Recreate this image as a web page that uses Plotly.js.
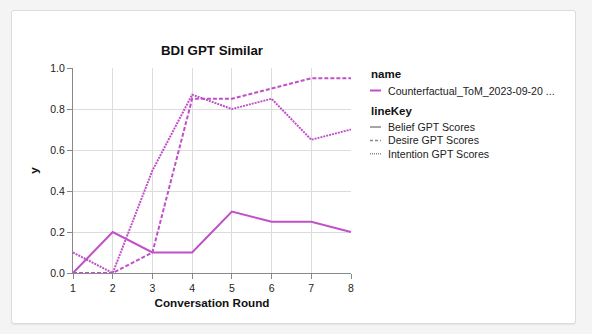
<!DOCTYPE html>
<html>
<head>
<meta charset="utf-8">
<script src="https://cdn.plot.ly/plotly-3.0.1.min.js"></script>
<style>
  html, body { margin: 0; padding: 0; background: #f4f4f4; width: 592px; height: 334px; overflow: hidden; }
  #card { position: absolute; left: 11px; top: 10px; width: 563px; height: 312px; background: #ffffff;
          border: 1px solid #dcdcdc; border-radius: 3px; box-shadow: 0 1px 1px rgba(0,0,0,0.06); }
  #chart { position: absolute; left: 0; top: 0; width: 592px; height: 334px; }
</style>
</head>
<body>
<div id="card"></div>
<div id="chart"></div>
<script>
// ---- data ----
var rounds = [1, 2, 3, 4, 5, 6, 7, 8];
var beliefScores    = [0.0, 0.2, 0.1, 0.1, 0.3, 0.25, 0.25, 0.2];
var desireScores    = [0.0, 0.0, 0.1, 0.85, 0.85, 0.9, 0.95, 0.95];
var intentionScores = [0.1, 0.0, 0.5, 0.87, 0.8, 0.85, 0.65, 0.7];
var seriesNames = ["Belief GPT Scores", "Desire GPT Scores", "Intention GPT Scores"];
var runName = "Counterfactual_ToM_2023-09-20 ...";
var yTicks = [0, 0.2, 0.4, 0.6, 0.8, 1.0];

var color = "#c050c8";
var dashes = ["solid", "dash", "dot"];
var values = [beliefScores, desireScores, intentionScores];

function dashStyle(d, big) {
  if (d === "dash") return big ? "4px,2px" : "3px,2px";
  if (d === "dot") return big ? "2px,1px" : "1px,1px";
  return "solid";
}

var traces = values.map(function (v, i) {
  return {
    x: rounds, y: v, type: "scatter", mode: "lines", name: seriesNames[i],
    line: { color: color, width: 2, dash: dashStyle(dashes[i], true) },
    showlegend: false, hoverinfo: "x+y"
  };
});

// ---- plot geometry (pixels) ----
var PL = 73, PR = 351, PT = 68, PB = 273;
function px2paperX(px) { return (px - PL) / (PR - PL); }
function px2paperY(py) { return (PB - py) / (PB - PT); }

// ---- legend (drawn as annotations + shapes) ----
var L = 370, textX = 386;
var ann = [], shapes = [];
ann.push({ text: "<b>name</b>", x: px2paperX(L - 1), y: px2paperY(73.5), xanchor: "left", yanchor: "middle",
           font: { size: 11.5, color: "#111" } });
ann.push({ text: runName, x: px2paperX(textX), y: px2paperY(90.5), xanchor: "left", yanchor: "middle",
           font: { size: 10.6, color: "#222" } });
shapes.push({ type: "line", xref: "paper", yref: "paper", x0: px2paperX(L), x1: px2paperX(L + 11),
              y0: px2paperY(90.5), y1: px2paperY(90.5), line: { color: color, width: 2 } });
ann.push({ text: "<b>lineKey</b>", x: px2paperX(L - 1), y: px2paperY(110.5), xanchor: "left", yanchor: "middle",
           font: { size: 11.5, color: "#111" } });
seriesNames.forEach(function (n, i) {
  var yy = 127 + i * 13.4;
  ann.push({ text: n, x: px2paperX(textX), y: px2paperY(yy), xanchor: "left", yanchor: "middle",
             font: { size: 10.6, color: "#222" } });
  shapes.push({ type: "line", xref: "paper", yref: "paper", x0: px2paperX(L), x1: px2paperX(L + 11),
                y0: px2paperY(yy), y1: px2paperY(yy),
                line: { color: "#888", width: 1.5, dash: dashStyle(dashes[i], false) } });
});
ann.forEach(function (a) { a.xref = "paper"; a.yref = "paper"; a.showarrow = false; });

var layout = {
  width: 592, height: 334,
  paper_bgcolor: "rgba(0,0,0,0)", plot_bgcolor: "rgba(0,0,0,0)",
  font: { family: "Liberation Sans, Arial, sans-serif", size: 10.5, color: "#222" },
  margin: { l: PL, r: 592 - PR, t: PT, b: 334 - PB, pad: 0 },
  title: { text: "<b>BDI GPT Similar</b>", font: { size: 13.3, color: "#111" }, x: ((PL + PR) / 2) / 592, xanchor: "center",
           y: 1 - 50 / 334, yanchor: "middle" },
  xaxis: {
    range: [1, 8], tickvals: rounds, ticks: "outside", ticklen: 5, tickcolor: "#888", tickwidth: 1,
    showline: true, linecolor: "#888", linewidth: 1, showgrid: true, gridcolor: "#dcdcdc", gridwidth: 1,
    zeroline: false, tickfont: { size: 10.5, color: "#222" },
    title: { text: "<b>Conversation Round</b>", font: { size: 11.7, color: "#111" }, standoff: 6 }
  },
  yaxis: {
    range: [0, 1], tickvals: yTicks, ticktext: yTicks.map(function (t) { return t.toFixed(1); }),
    ticks: "outside", ticklen: 5, tickcolor: "#888", tickwidth: 1,
    showline: true, linecolor: "#888", linewidth: 1, showgrid: true, gridcolor: "#dcdcdc", gridwidth: 1,
    zeroline: false, tickfont: { size: 10.5, color: "#222" },
    title: { text: "<b>y</b>", font: { size: 11.7, color: "#111" }, standoff: 9 }
  },
  annotations: ann,
  shapes: shapes,
  showlegend: false
};

Plotly.newPlot("chart", traces, layout, { displayModeBar: false, staticPlot: true });
</script>
</body>
</html>
